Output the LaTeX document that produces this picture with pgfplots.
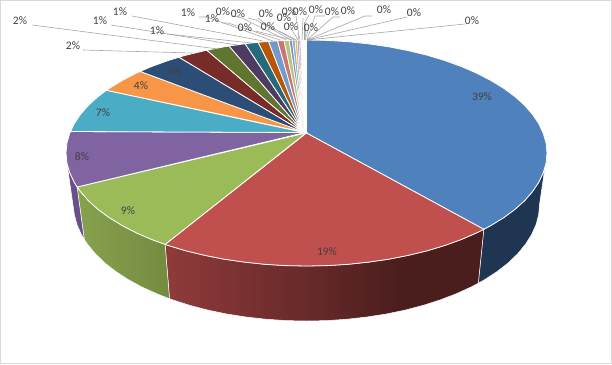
\documentclass[border=0pt]{standalone}
\usepackage{pgfplots}
\pgfplotsset{compat=1.18}
\usepackage{fontspec}
\setmainfont{Carlito}
\definecolor{txt}{HTML}{404040}
\definecolor{lead}{HTML}{A6A6A6}
\definecolor{frm}{HTML}{D9D9D9}
\definecolor{HTMLnavy}{HTML}{1F3552}
\definecolor{wallRa}{HTML}{8F3B3A}
\definecolor{wallRb}{HTML}{682A2A}
\definecolor{wallRc}{HTML}{4A1E1D}
\definecolor{wallGa}{HTML}{87A24E}
\definecolor{wallGb}{HTML}{738B40}
\definecolor{wallP}{HTML}{6A5088}
\definecolor{c1}{HTML}{4F81BD}
\definecolor{c2}{HTML}{C0504D}
\definecolor{c3}{HTML}{9BBB59}
\definecolor{c4}{HTML}{8064A2}
\definecolor{c5}{HTML}{4BACC6}
\definecolor{c6}{HTML}{F79646}
\definecolor{c7}{HTML}{2C4D75}
\definecolor{c8}{HTML}{772C2A}
\definecolor{c9}{HTML}{5F7530}
\definecolor{c10}{HTML}{4D3B62}
\definecolor{c11}{HTML}{276A7C}
\definecolor{c12}{HTML}{B65708}
\definecolor{c13}{HTML}{729ACA}
\definecolor{c14}{HTML}{CD7371}
\definecolor{c15}{HTML}{AFC97A}
\definecolor{c16}{HTML}{9983B5}
\definecolor{c17}{HTML}{6FBDD1}
\definecolor{c18}{HTML}{F9AB6B}
\definecolor{c19}{HTML}{8AA6CF}
\definecolor{c20}{HTML}{D79593}
\pgfdeclarehorizontalshading{redwall}{100bp}{color(0bp)=(wallRa); color(25bp)=(wallRa); color(47bp)=(wallRb); color(62bp)=(wallRc); color(100bp)=(wallRc)}
\newcommand\lb[3]{\node[text=txt,inner sep=0pt,font=\fontsize{11.5}{13}\selectfont] at (axis cs:#1,#2) {#3};}
\begin{document}
\begin{tikzpicture}
\begin{axis}[scale only axis,width=612pt,height=364pt,xmin=0,xmax=612,ymin=0,ymax=364,y dir=reverse,hide axis,clip=false]
% frame
\addplot[draw=frm,line width=1pt] coordinates {(0.5,0.5)(611.5,0.5)(611.5,363.5)(0.5,363.5)} -- cycle;
% side walls
\addplot[fill=HTMLnavy,draw=white,line width=0.5pt] coordinates {(547,153)(546.1,162.9)(543.3,172.6)(538.8,182.2)(532.5,191.6)(524.5,200.8)(514.8,209.5)(503.5,217.8)(490.7,225.6)(483.8,229.3)(478.3,283.2)(485,279.4)(497.4,271.3)(508.3,262.8)(517.7,253.7)(525.4,244.3)(531.5,234.7)(536,224.7)(538.6,214.7)(539.5,204.5)} -- cycle;
\addplot[shading=redwall,draw=white,line width=0.5pt] coordinates {(483.8,229.3)(476.6,232.9)(461.1,239.6)(444.4,245.6)(426.8,250.9)(408.1,255.4)(388.8,259.2)(368.7,262.1)(348.3,264.3)(327.5,265.6)(306.5,266)(285.5,265.6)(264.7,264.3)(244.3,262.1)(224.2,259.2)(204.9,255.4)(186.2,250.9)(168.6,245.6)(165.1,244.4)(169.5,298.7)(172.9,299.9)(190,305.4)(208,310.1)(226.8,314)(246.2,317)(266.1,319.2)(286.2,320.6)(306.5,321)(326.8,320.6)(346.9,319.2)(366.8,317)(386.2,314)(405,310.1)(423,305.4)(440.1,299.9)(456.3,293.7)(471.3,286.9)(478.3,283.2)} -- cycle;
\addplot[left color=wallGa,right color=wallGb,draw=white,line width=0.5pt] coordinates {(165.1,244.4)(151.9,239.6)(136.4,232.9)(122.3,225.6)(109.5,217.8)(98.2,209.5)(88.5,200.8)(80.5,191.6)(77.1,187)(84.3,239.5)(87.6,244.3)(95.3,253.7)(104.7,262.8)(115.6,271.3)(128,279.4)(141.7,286.9)(156.7,293.7)(169.5,298.7)} -- cycle;
\addplot[fill=wallP,draw=white,line width=0.5pt] coordinates {(77.1,187)(74.2,182.2)(69.7,172.6)(66.9,162.9)(74.4,214.7)(77,224.7)(81.5,234.7)(84.3,239.5)} -- cycle;
% top faces
\addplot[fill=c1,draw=white,line width=0.8pt] coordinates {(306.5,133)(306.5,40)(327.5,40.4)(348.3,41.7)(368.7,43.9)(388.8,46.8)(408.1,50.6)(426.8,55.1)(444.4,60.4)(461.1,66.4)(476.6,73.1)(490.7,80.4)(503.5,88.2)(514.8,96.5)(524.5,105.2)(532.5,114.4)(538.8,123.8)(543.3,133.4)(546.1,143.1)(547,153)(546.1,162.9)(543.3,172.6)(538.8,182.2)(532.5,191.6)(524.5,200.8)(514.8,209.5)(503.5,217.8)(490.7,225.6)(483.8,229.3)} -- cycle;
\addplot[fill=c2,draw=white,line width=0.8pt] coordinates {(306.5,133)(483.8,229.3)(476.6,232.9)(461.1,239.6)(444.4,245.6)(426.8,250.9)(408.1,255.4)(388.8,259.2)(368.7,262.1)(348.3,264.3)(327.5,265.6)(306.5,266)(285.5,265.6)(264.7,264.3)(244.3,262.1)(224.2,259.2)(204.9,255.4)(186.2,250.9)(168.6,245.6)(165.1,244.4)} -- cycle;
\addplot[fill=c3,draw=white,line width=0.8pt] coordinates {(306,133)(165.1,244.4)(151.9,239.6)(136.4,232.9)(122.3,225.6)(109.5,217.8)(98.2,209.5)(88.5,200.8)(80.5,191.6)(77.1,187)} -- cycle;
\addplot[fill=c4,draw=white,line width=0.8pt] coordinates {(305,132.5)(77.1,187)(74.2,182.2)(69.7,172.6)(66.9,162.9)(66,153)(66.9,143.1)(69.7,133.4)(70.6,131.5)} -- cycle;
\addplot[fill=c5,draw=white,line width=0.8pt] coordinates {(304,132.5)(70.6,131.5)(74.2,123.8)(80.5,114.4)(88.5,105.2)(98.2,96.5)(106.4,90.3)} -- cycle;
\addplot[fill=c6,draw=white,line width=0.8pt] coordinates {(304,132)(106.4,90.3)(109.5,88.2)(122.3,80.4)(136.4,73.1)(140.1,71.4)} -- cycle;
\addplot[fill=c7,draw=white,line width=0.8pt] coordinates {(303.5,132)(140.1,71.4)(151.9,66.4)(168.6,60.4)(179,57.2)} -- cycle;
\addplot[fill=c8,draw=white,line width=0.8pt] coordinates {(303.5,132)(179,57.2)(186.2,55.1)(204.9,50.6)(206.8,50.2)} -- cycle;
\addplot[fill=c9,draw=white,line width=0.8pt] coordinates {(303.5,132)(206.8,50.2)(224.2,46.8)(229,46)} -- cycle;
\addplot[fill=c10,draw=white,line width=0.8pt] coordinates {(303.5,132)(229,46)(245.1,43.75)} -- cycle;
\addplot[fill=c11,draw=white,line width=0.8pt] coordinates {(303.5,132)(245.1,43.75)(258.1,42.3)} -- cycle;
\addplot[fill=c12,draw=white,line width=0.8pt] coordinates {(303.5,132)(258.1,42.3)(268.5,41.4)} -- cycle;
\addplot[fill=c13,draw=white,line width=0.8pt] coordinates {(303.5,132)(268.5,41.4)(277.5,40.8)} -- cycle;
\addplot[fill=c14,draw=white,line width=0.8pt] coordinates {(303.5,132)(277.5,40.8)(284,40.5)} -- cycle;
\addplot[fill=c15,draw=white,line width=0.8pt] coordinates {(303.5,132)(284,40.5)(289.2,40.3)} -- cycle;
\addplot[fill=c16,draw=white,line width=0.8pt] coordinates {(303.5,132)(289.2,40.3)(292.3,40.2)} -- cycle;
\addplot[fill=c17,draw=white,line width=0.6pt] coordinates {(303.5,132)(292.3,40.2)(295,40.1)} -- cycle;
\addplot[fill=c18,draw=white,line width=0.6pt] coordinates {(303.5,132)(295,40.1)(297.3,40)} -- cycle;
\addplot[fill=c19,draw=white,line width=0.5pt] coordinates {(303.5,132)(297.3,40)(299,40)} -- cycle;
\addplot[fill=c20,draw=white,line width=0.5pt] coordinates {(303.5,132)(299,40)(300.5,40)} -- cycle;
% leader lines
\addplot[lead,line width=0.6pt] coordinates {(32,25)(218,49)};
\addplot[lead,line width=0.6pt] coordinates {(83,50)(192,53)};
\addplot[lead,line width=0.6pt] coordinates {(111,25)(237,45)};
\addplot[lead,line width=0.6pt] coordinates {(167,34)(252,43)};
\addplot[lead,line width=0.6pt] coordinates {(132,16)(263,41)};
\addplot[lead,line width=0.6pt] coordinates {(199,17)(207,17)(273,41)};
\addplot[lead,line width=0.6pt] coordinates {(222,23)(228,23)(280,40)};
\addplot[lead,line width=0.6pt] coordinates {(233,16)(242,18)(286,40)};
\addplot[lead,line width=0.6pt] coordinates {(248,18)(256,20)(291,40)};
\addplot[lead,line width=0.6pt] coordinates {(255,31)(293,40)};
\addplot[lead,line width=0.6pt] coordinates {(258,18)(267,25)(295,40)};
\addplot[lead,line width=0.6pt] coordinates {(279,31)(296.5,40)};
\addplot[lead,line width=0.6pt] coordinates {(288,23)(298,40)};
\addplot[lead,line width=0.6pt] coordinates {(298,33)(299,40)};
\addplot[lead,line width=0.6pt] coordinates {(296,16)(299.5,39)};
\addplot[lead,line width=0.6pt] coordinates {(303,18)(302,40)};
\addplot[lead,line width=0.6pt] coordinates {(304,22)(304,40)};
\addplot[lead,line width=0.6pt] coordinates {(309,15)(306,20)(305,40)};
\addplot[lead,line width=0.6pt] coordinates {(308,31)(305,40)};
\addplot[lead,line width=0.6pt] coordinates {(325,16)(315,16)(307,40)};
\addplot[lead,line width=0.6pt] coordinates {(340,17)(333,17)(307,40)};
\addplot[lead,line width=0.6pt] coordinates {(372,16)(365,16)(307,40)};
\addplot[lead,line width=0.6pt] coordinates {(407,17)(307,40)};
\addplot[lead,line width=0.6pt] coordinates {(465,24)(307,40)};
% labels
\lb{482}{97}{39\%}
\lb{327}{252}{19\%}
\lb{128}{211}{9\%}
\lb{82}{157}{8\%}
\lb{103}{113}{7\%}
\lb{141}{86}{4\%}
\lb{175}{72}{4\%}
\lb{73}{46}{2\%}
\lb{20}{21}{2\%}
\lb{100}{21}{1\%}
\lb{157}{31}{1\%}
\lb{120}{12}{1\%}
\lb{188}{13}{1\%}
\lb{212}{19}{1\%}
\lb{223}{12}{0\%}
\lb{238}{14}{0\%}
\lb{245}{28}{0\%}
\lb{266}{14}{0\%}
\lb{268}{27}{0\%}
\lb{284}{18}{0\%}
\lb{291}{27}{0\%}
\lb{289}{12}{0\%}
\lb{300}{12}{0\%}
\lb{316}{10}{0\%}
\lb{311}{28}{0\%}
\lb{332}{12}{0\%}
\lb{348}{11}{0\%}
\lb{384}{10}{0\%}
\lb{414}{13}{0\%}
\lb{472}{21}{0\%}
\end{axis}
\end{tikzpicture}
\end{document}
